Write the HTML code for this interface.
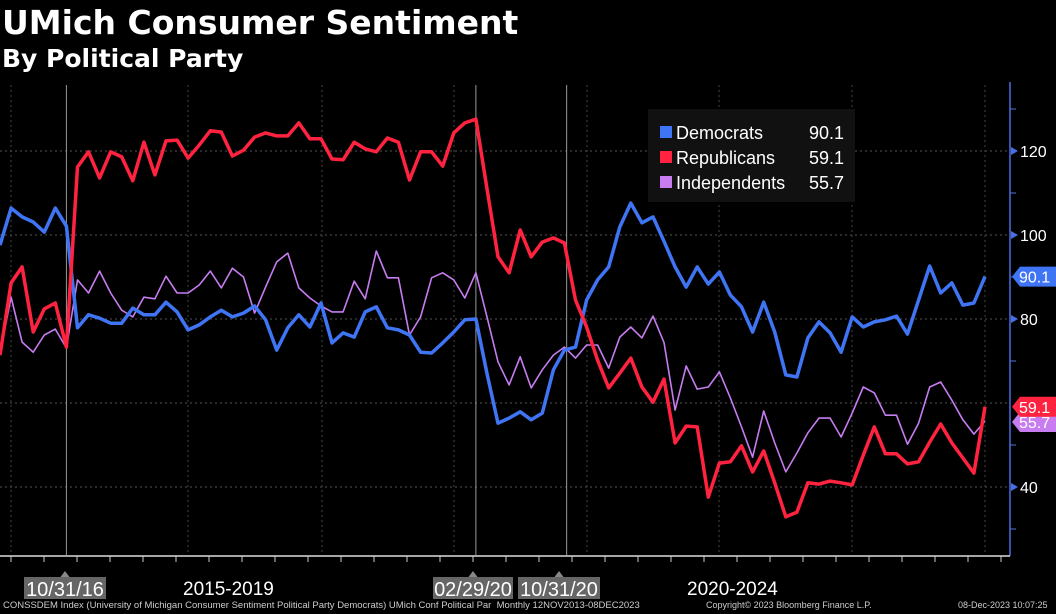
<!DOCTYPE html>
<html><head><meta charset="utf-8"><style>
html,body{margin:0;padding:0;background:#000;}
body{width:1056px;height:614px;overflow:hidden;position:relative;font-family:"Liberation Sans",sans-serif;color:#fff;}
.t{position:absolute;white-space:nowrap;}
</style></head><body>
<div class="t" style="left:2px;top:3px;font-size:33px;font-weight:bold;font-family:'DejaVu Sans',sans-serif;">UMich Consumer Sentiment</div>
<div class="t" style="left:2px;top:44px;font-size:25px;font-weight:bold;font-family:'DejaVu Sans',sans-serif;">By Political Party</div>
<svg id="chart" width="1056" height="614" style="position:absolute;left:0;top:0" xmlns="http://www.w3.org/2000/svg"></svg>
<div class="t" style="left:3px;top:600px;font-size:9.5px;color:#ccc;">CONSSDEM Index (University of Michigan Consumer Sentiment Political Party Democrats) UMich Conf Political Par&nbsp; Monthly 12NOV2013-08DEC2023</div>
<div class="t" style="left:706px;top:600px;font-size:9px;color:#ccc;">Copyright© 2023 Bloomberg Finance L.P.</div>
<div class="t" style="left:958px;top:600px;font-size:9px;color:#ccc;">08-Dec-2023 10:07:25</div>
<script>
const democrats=[97.6,106.4,104.3,103.1,100.7,106.4,102.1,77.9,81.0,80.2,79.0,79.0,82.6,81.0,81.0,84.0,81.7,77.4,78.6,80.5,82.1,80.5,81.4,83.1,79.8,72.6,77.9,81.0,78.1,83.8,74.3,76.7,75.7,81.7,82.9,77.9,77.4,76.2,72.1,71.9,74.3,76.9,79.8,80.0,67.0,55.2,56.4,57.9,56.0,57.6,67.9,72.6,73.3,84.5,89.3,92.4,101.9,107.6,102.9,104.3,98.5,92.4,87.6,92.4,88.3,91.2,85.7,82.9,76.9,84.0,76.9,66.7,66.2,75.5,79.3,76.7,72.1,80.5,78.1,79.3,79.8,80.7,76.4,84.5,92.6,86.2,88.6,83.3,83.8,90.1];
const republicans=[71.4,88.6,92.4,76.9,82.4,83.8,73.3,116.2,119.8,113.6,119.8,118.6,112.9,122.1,114.3,122.4,122.6,118.3,121.4,124.8,124.5,118.8,120.2,123.3,124.3,123.6,123.6,126.7,122.9,122.9,118.1,117.9,122.1,120.5,119.8,123.1,122.1,113.1,119.8,119.8,116.4,124.3,126.7,127.6,111.0,94.8,91.0,101.2,94.8,98.3,99.3,98.1,84.5,78.1,70.2,63.6,67.1,70.7,63.8,60.2,65.7,50.5,54.5,54.3,37.6,45.7,46.0,49.8,43.6,48.6,41.0,32.9,34.0,41.0,40.7,41.4,41.0,40.5,47.6,54.3,47.9,47.9,45.5,46.0,50.7,55.0,50.5,46.9,43.3,59.1];
const independents=[71.9,85.2,74.5,72.1,76.2,77.6,73.1,89.3,86.2,91.4,86.2,82.1,80.5,85.2,84.8,90.2,86.2,86.2,88.1,91.4,87.4,92.1,90.0,81.4,87.6,93.6,95.7,87.4,85.0,83.1,81.7,81.7,89.0,84.8,96.2,89.8,89.8,76.2,80.5,89.8,91.0,89.3,85.0,91.0,80.5,69.8,64.3,71.0,63.6,67.9,71.4,73.3,70.7,73.8,73.8,68.3,75.7,78.1,75.5,80.7,74.4,58.3,68.8,63.3,63.8,67.4,61.2,54.3,47.1,58.1,50.5,43.6,48.1,52.9,56.4,56.4,51.9,57.6,63.8,62.4,57.1,57.1,50.2,55.2,63.8,65.0,60.7,56.0,52.6,55.7];
const yTicks=[120,100,80,40];
const gridValues=[120,100,80,60,40];
const minorTicks=[130,110,90,70,50,30];
const eventLabels=["10/31/16","02/29/20","10/31/20"];
const eventIndex=[6,43,51.2];
const periodLabels=["2015-2019","2020-2024"];

const svg=document.getElementById('chart');
const NS='http://www.w3.org/2000/svg';
const X0=0,X1=985,N=democrats.length;
function xs(i){return X0+(X1-X0)*i/(N-1);}
function ys(v){return 151+(120-v)*4.2;}
function mk(tag,attrs,parent){const e=document.createElementNS(NS,tag);for(const k in attrs)e.setAttribute(k,attrs[k]);(parent||svg).appendChild(e);return e;}

gridValues.forEach(v=>{const l=mk('line',{x1:0,x2:1008,y1:ys(v),y2:ys(v),stroke:'#555','stroke-dasharray':'2,3','stroke-width':1});

});
[11,188,322,454,587,719,852,985].forEach(x=>{const l=mk('line',{x1:x,x2:x,y1:85,y2:555,stroke:'#444','stroke-dasharray':'2,3','stroke-width':1});

});
eventIndex.forEach(i=>{const l=mk('line',{x1:xs(i),x2:xs(i),y1:85,y2:555,stroke:'#999','stroke-width':1});

});
const ya=mk('line',{x1:1010,x2:1010,y1:82,y2:556,stroke:'#4a6fe0','stroke-width':1.5});


const xa=mk('line',{x1:0,x2:1010,y1:556,y2:556,stroke:'#ddd','stroke-width':1.5});


for(let x=11;x<1010;x+=33){const t=mk('line',{x1:x,x2:x,y1:556,y2:562,stroke:'#ccc','stroke-width':1});

}
minorTicks.forEach(v=>{const t=mk('line',{x1:1010,x2:1016,y1:ys(v),y2:ys(v),stroke:'#4a6fe0','stroke-width':1});

});
yTicks.forEach(v=>{const p=mk('polygon',{points:`1011,${ys(v)-4} 1018,${ys(v)} 1011,${ys(v)+4}`,fill:'#4a6fe0'});


const t=mk('text',{x:1020,y:ys(v)+6,fill:'#fff','font-size':16,'font-family':'Liberation Sans, sans-serif'});t.textContent=v;

});
function line(data,color,w,name){const d=data.map((v,i)=>(i?'L':'M')+xs(i).toFixed(1)+','+ys(v).toFixed(1)).join(' ');
const p=mk('path',{d:d,fill:'none',stroke:color,'stroke-width':w,'stroke-linejoin':'round'});

}
line(independents,'#c77cf0',1.6,'independents-line');
line(democrats,'#3f75f5',3.5,'democrats-line');
line(republicans,'#ff2340',3.5,'republicans-line');
function tag(v,color,name,y){const yy=y;const g=mk('g',{});


mk('polygon',{points:`1012,${yy} 1020,${yy-10} 1056,${yy-10} 1056,${yy+10} 1020,${yy+10}`,fill:color},g);
const t=mk('text',{x:1019,y:yy+6,fill:'#fff','font-size':16,'font-family':'Liberation Sans, sans-serif'},g);t.textContent=v.toFixed(1);}
tag(independents[N-1],'#c77cf0','independents-value-tag',ys(independents[N-1])+1);
tag(republicans[N-1],'#ff2340','republicans-value-tag',ys(republicans[N-1]));
tag(democrats[N-1],'#3f75f5','democrats-value-tag',ys(democrats[N-1]));
const lg=mk('g',{});


mk('rect',{x:648,y:109,width:207,height:93,fill:'#111'},lg);
const ents=[["Democrats",democrats,'#3f75f5'],["Republicans",republicans,'#ff2340'],["Independents",independents,'#c77cf0']];
ents.forEach((e,k)=>{const y=132+k*25;const g=mk('g',{},lg);


mk('rect',{x:660,y:y-6,width:12,height:12,fill:e[2]},g);
const t=mk('text',{x:676,y:y+7,fill:'#fff','font-size':18,'font-family':'Liberation Sans, sans-serif'},g);t.textContent=e[0];
const t2=mk('text',{x:844,y:y+7,fill:'#fff','font-size':18,'text-anchor':'end','font-family':'Liberation Sans, sans-serif'},g);t2.textContent=e[1][N-1].toFixed(1);});
const boxes=[[24,82],[433,80],[518,82]];
eventLabels.forEach((s,k)=>{const g=mk('g',{});


const cx=boxes[k][0]+boxes[k][1]/2;
mk('polygon',{points:`${cx-6},579 ${cx},571 ${cx+6},579`,fill:'#888'},g);
mk('rect',{x:boxes[k][0],y:577,width:boxes[k][1],height:22,fill:'#666'},g);
const t=mk('text',{x:cx,y:596,fill:'#fff','font-size':20,'text-anchor':'middle','font-family':'Liberation Sans, sans-serif'},g);t.textContent=s;});
[[183,periodLabels[0]],[687,periodLabels[1]]].forEach(p=>{const t=mk('text',{x:p[0],y:595,fill:'#fff','font-size':19,'font-family':'Liberation Sans, sans-serif'});t.textContent=p[1];

});
</script>
</body></html>
